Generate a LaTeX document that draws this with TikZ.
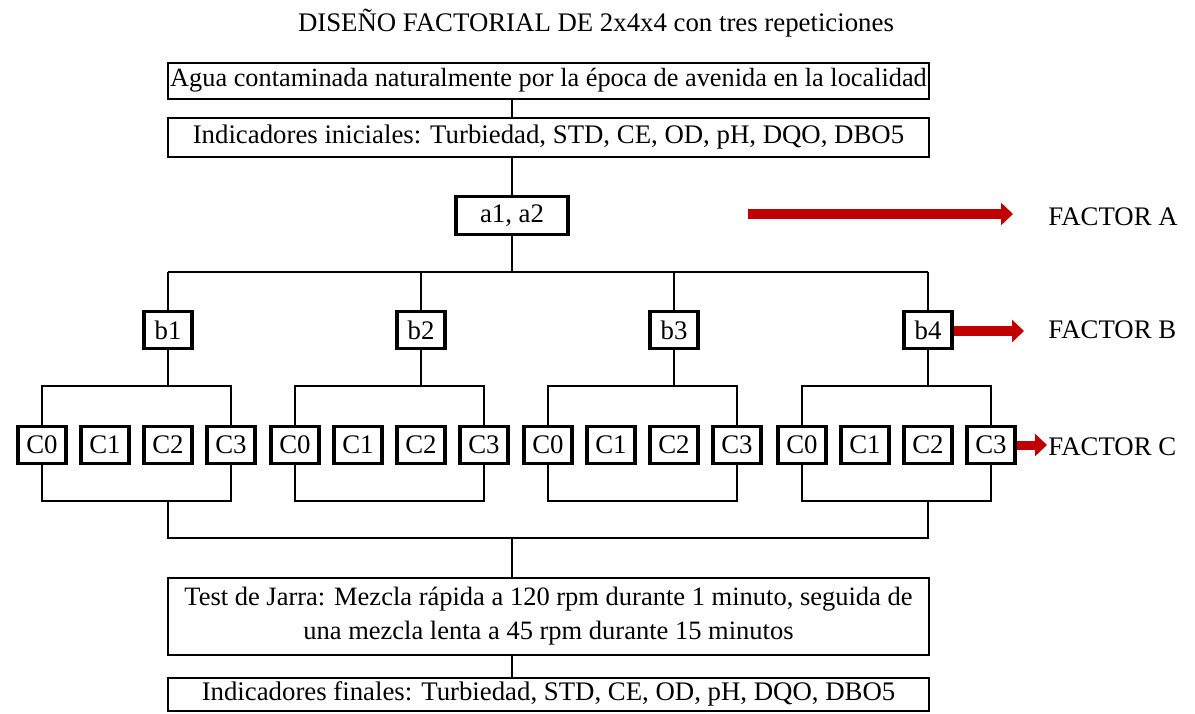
\documentclass[tikz,border=0pt]{standalone}
\usepackage{fontspec}
\setmainfont{Liberation Serif}
\usepackage{xcolor}
\usepackage{tikz}
\usetikzlibrary{calc, positioning, arrows.meta}
\definecolor{factorred}{HTML}{C00000}

\begin{document}
\begin{tikzpicture}[x=0.5pt, y=-0.5pt,
    every node/.style={font=\fontsize{13.4}{17}\selectfont, inner sep=0pt},
    widebox/.style={draw, line width=1pt, minimum width=380.5pt, align=center},
    levelbox/.style={draw, line width=1.8pt, minimum width=24pt, minimum height=18.5pt},
    conn/.style={line width=1pt},
    factorarrow/.style={draw=factorred, line width=5pt, -{Triangle[length=6pt,width=11pt]}}]
    \useasboundingbox (0,0) rectangle (1195,713);

    \node (title) at (596,23) {DISEÑO FACTORIAL DE 2x4x4 con tres repeticiones};
    \node[widebox, minimum height=18pt, font=\fontsize{13.15}{17}\selectfont] (agua) at (548.5,80.5) {Agua contaminada naturalmente por la época de avenida en la localidad};
    \node[widebox, minimum height=19.5pt] (ini) at (548.5,137) {Indicadores iniciales: Turbiedad, STD, CE, OD, pH, DQO, DBO5};
    \node[levelbox, minimum width=56pt, minimum height=19pt] (a12) at (512,215.5) {a1, a2};

    % niveles de los factores B y C
    \coordinate (btop) at (0,272);
    \coordinate (ctop) at (0,386);
    \coordinate (cbot) at (0,501);
    \coordinate (jbus) at (0,538);
    \foreach \g/\x in {1/168,2/421,3/674,4/928} {
        \node[levelbox] (b\g) at (\x,330) {b\g};
        \foreach \k in {0,...,3} {
            \node[levelbox] (c\g\k) at ({\x+(\k-2)*63},445) {C\k};
        }
    }

    \node[widebox, minimum height=38.5pt, font=\fontsize{13.25}{17}\selectfont] (jarra) at (548.5,616) {Test de Jarra: Mezcla rápida a 120 rpm durante 1 minuto, seguida de\\una mezcla lenta a 45 rpm durante 15 minutos};
    \node[widebox, minimum height=16.5pt] (fin) at (548.5,694) {Indicadores finales: Turbiedad, STD, CE, OD, pH, DQO, DBO5};

    % conectores
    \draw[conn] (agua.south -| a12) -- (ini.north -| a12);
    \draw[conn] (ini.south -| a12) -- (a12.north);
    \draw[conn] (a12.south) -- (a12 |- btop);
    \draw[conn] (b1 |- btop) -- (b4 |- btop);
    \foreach \g in {1,...,4} {
        \draw[conn] (b\g |- btop) -- (b\g.north);
        \draw[conn] (b\g.south) -- (b\g |- ctop);
        \draw[conn] (c\g0.north) -- (c\g0 |- ctop) -- (c\g3 |- ctop) -- (c\g3.north);
        \draw[conn] (c\g0.south) -- (c\g0 |- cbot) -- (c\g3 |- cbot) -- (c\g3.south);
    }
    \draw[conn] (b1 |- cbot) -- (b1 |- jbus) -- (b4 |- jbus) -- (b4 |- cbot);
    \draw[conn] (a12 |- jbus) -- (jarra.north -| a12);
    \draw[conn] (jarra.south -| a12) -- (fin.north -| a12);

    % factores
    \node[anchor=west] (factA) at (1048,217) {FACTOR A};
    \node[anchor=west] (factB) at (1048,330) {FACTOR B};
    \node[anchor=west] (factC) at (1048,447) {FACTOR C};
    \coordinate (arrA) at (748,214);
    \coordinate (arrAend) at (1013,214);
    \coordinate (arrBend) at (1024,331);
    \coordinate (arrCend) at (1047,445);
    \draw[factorarrow] (arrA) -- (arrAend);
    \draw[factorarrow] (b4.east |- arrBend) -- (arrBend);
    \draw[factorarrow, line width=4.5pt] (c43.east |- arrCend) -- (arrCend);
\end{tikzpicture}
\end{document}
